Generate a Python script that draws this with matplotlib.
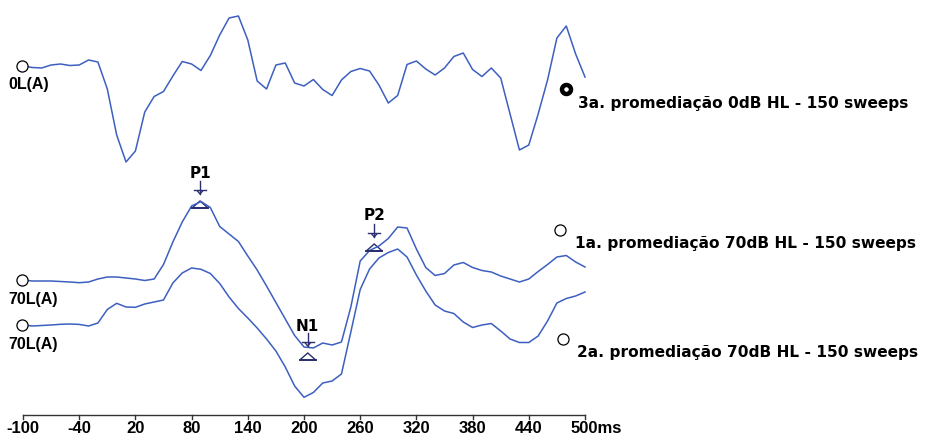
import numpy as np
import matplotlib.pyplot as plt
from matplotlib.patches import Polygon

# latency axis (ms), one sample read every 10 ms
t = list(range(-100, 501, 10))

# amplitudes (arbitrary units, up = positive)
a3 = [0, -1.5, -2, 1, 2, 0.5, 1, 6, 4, -23,
      -69, -96, -85, -46, -30.5, -25.5, -10, 4.5, 2, -4.5,
      10.5, 31, 48, 50, 26, -15, -23, 1, 3, -17,
      -20, -13.5, -23.5, -29.5, -14, -5.5, -2.5, -5, -19, -37,
      -29.5, 1.5, 5, -3, -9, -2, 9.5, 13, -3.5, -10.5,
      -2, -12, -48, -84, -79, -48, -14, 28, 40, 12,
      -11]
a1 = [0, -1, -1, -1, -1.5, -2, -2.7, -2, 1, 3,
      3, 2, 1, -0.5, 1, 15.5, 38, 58, 74, 78.5,
      72.5, 53.5, 46, 38.5, 24, 10, -6, -22.5, -39, -55.5,
      -67, -68, -63, -65, -62, -27, 19, 29.5, 34, 41.5,
      53, 52, 31, 12.5, 4.5, 6.5, 15, 17.5, 12.5, 9.5,
      8, 4, 1, -2, 1, 8.5, 15.5, 23, 24.5, 18,
      13]
a2 = [0, -1, -0.5, 0, 0.7, 1, 0.6, -1, 2, 15.5,
      21.7, 18, 17.7, 21, 23, 25, 42, 52, 57, 55.7,
      51.5, 41.5, 28, 16.5, 7, -3, -14, -26, -42, -61,
      -72.3, -67.5, -58, -56, -49, -7, 35.5, 56, 67, 72.5,
      76, 68, 50, 34, 20, 14, 11.5, 3, -2.5, 0,
      1.5, -6, -14, -17.5, -17.5, -11, 4, 22, 26.5, 29,
      33]

trace_labels = ['0L(A)', '70L(A)', '70L(A)']
legend_texts = ['3a. promediação 0dB HL - 150 sweeps',
                '1a. promediação 70dB HL - 150 sweeps',
                '2a. promediação 70dB HL - 150 sweeps']

peak_names = ['P1', 'N1', 'P2']
peak_lat = [89, 204, 275]

ticks = [-100, -40, 20, 80, 140, 200, 260, 320, 380, 440, 500]

# layout (pixel based, 1 ms = 0.9367 px)
PX = 0.93667
def xp(px):
    return -100 + (px - 23) / PX

blue = '#3d5fbf'
navy = '#2b2f6e'
narrow = ['Liberation Sans Narrow', 'Liberation Sans', 'DejaVu Sans']
wide = ['DejaVu Sans']

fig = plt.figure(figsize=(9.26, 4.36), dpi=100)
ax = fig.add_axes([0, 0, 1, 1])
ax.set_xlim(xp(0), xp(926))
ax.set_ylim(-436, 0)
ax.axis('off')

base3, base1, base2 = -66, -280, -325
for amp, b in [(a3, base3), (a1, base1), (a2, base2)]:
    ax.plot(t, np.array(amp) + b, color=blue, lw=1.1, solid_joinstyle='round')

# start circles and trace labels
for b, lab in zip([base3, base1, base2], trace_labels):
    ax.plot([-100 - 1], [b], 'o', ms=8, mfc='white', mec='black', mew=0.9)
    ax.text(xp(8), b - 19, lab, fontsize=11.5, fontweight='bold', family=narrow,
            ha='left', va='center')

# legend markers and texts
ax.plot([xp(566)], [-89], 'o', ms=6.5, mfc='white', mec='black', mew=3.2)
ax.text(xp(578), -103, legend_texts[0], fontsize=11.1, fontweight='bold', family=wide,
        ha='left', va='center')
ax.plot([xp(560)], [-230], 'o', ms=8, mfc='white', mec='black', mew=0.9)
ax.text(xp(575), -243, legend_texts[1], fontsize=11.1, fontweight='bold', family=wide,
        ha='left', va='center')
ax.plot([xp(563)], [-339], 'o', ms=8, mfc='white', mec='black', mew=0.9)
ax.text(xp(577), -352, legend_texts[2], fontsize=11.1, fontweight='bold', family=wide,
        ha='left', va='center')

# peak markers: arrow above, open triangle at the wave
def peak_mark(lat, name, y_arrow, y_tri, y_txt):
    w = 6 / PX
    ax.plot([lat, lat], [y_arrow + 9, y_arrow - 4], color=navy, lw=1.0)
    ax.plot([lat - w, lat + w], [y_arrow, y_arrow], color=navy, lw=1.0)
    ax.plot([lat - 2.5 / PX, lat, lat + 2.5 / PX], [y_arrow - 1, y_arrow - 4, y_arrow - 1],
            color=navy, lw=1.0)
    tri = Polygon([[lat - 8 / PX, y_tri - 3], [lat + 8 / PX, y_tri - 3], [lat, y_tri + 4]],
                  closed=True, fill=False, edgecolor=navy, lw=1.0)
    ax.add_patch(tri)
    ax.plot([lat - 8 / PX, lat + 8 / PX], [y_tri - 3, y_tri - 3], color=navy, lw=1.4)
    ax.text(lat, y_txt, name, fontsize=11, fontweight='bold', family=wide,
            ha='center', va='center')

peak_mark(peak_lat[0], peak_names[0], -190, -205, -173)
peak_mark(peak_lat[1], peak_names[1], -342, -357, -326)
peak_mark(peak_lat[2], peak_names[2], -233, -248, -215)

# time axis
ax.plot([ticks[0], ticks[-1]], [-415, -415], color='#333333', lw=1.0)
for tk in ticks:
    ax.plot([tk, tk], [-415, -419], color='#333333', lw=1.0)
    if tk == ticks[-1]:
        ax.text(tk - 14 / PX, -428, f'{tk}ms', fontsize=12, fontweight='bold',
                family=narrow, ha='left', va='center')
    else:
        ax.text(tk, -428, f'{tk}', fontsize=12, fontweight='bold',
                family=narrow, ha='center', va='center')

fig.savefig('out.png', dpi=100, facecolor='white')
